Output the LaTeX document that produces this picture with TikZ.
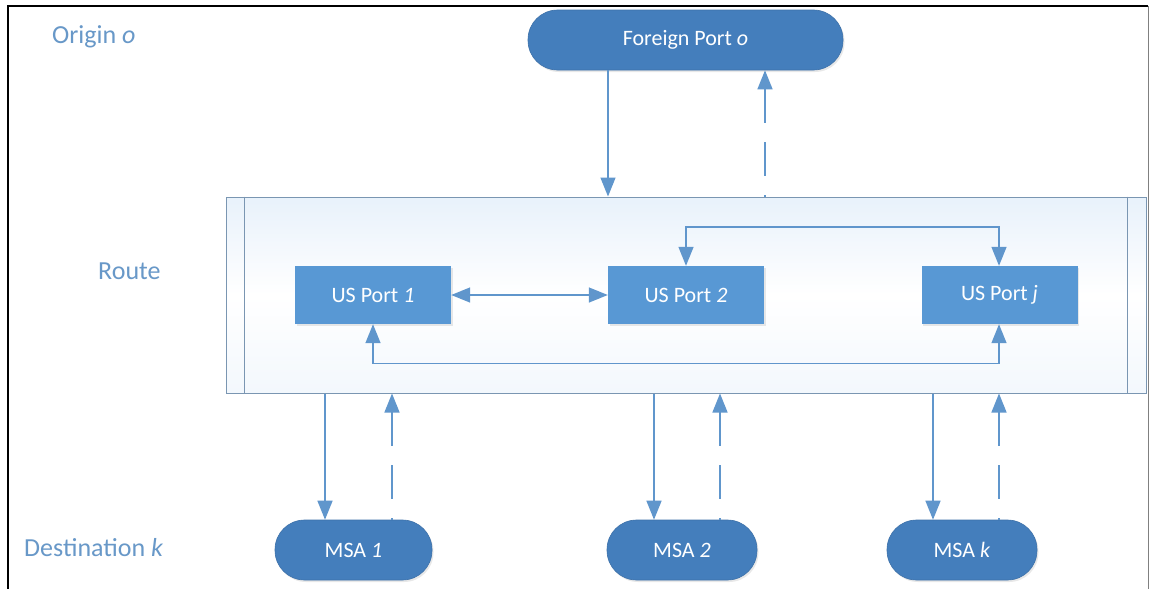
\documentclass[tikz,border=0pt]{standalone}
\usepackage{fontspec}
\setmainfont{Carlito}
\usetikzlibrary{arrows.meta,shadows,calc}
\definecolor{lbl}{RGB}{104,152,200}
\definecolor{pill}{RGB}{68,126,188}
\definecolor{boxc}{RGB}{88,152,212}
\definecolor{conn}{RGB}{96,150,204}
\definecolor{rb}{RGB}{122,150,178}
\definecolor{rfill}{RGB}{228,239,250}
\tikzset{
  lab/.style={text=lbl,font=\fontsize{26}{30}\selectfont,anchor=west,inner sep=0},
  pillnode/.style={fill=pill,draw=pill!90!black,line width=0.6pt,rounded corners=29.5pt,text=white,
    font=\fontsize{22}{26}\selectfont,minimum height=60pt,inner sep=0,
    drop shadow={opacity=0.18,shadow xshift=1.5pt,shadow yshift=-2pt}},
  portnode/.style={fill=boxc,text=white,font=\fontsize{22}{26}\selectfont,minimum width=156pt,
    minimum height=58pt,inner sep=0,drop shadow={opacity=0.18,shadow xshift=1.5pt,shadow yshift=-2pt}},
  routebox/.style={draw=rb,line width=1pt,minimum width=920pt,minimum height=196pt,inner sep=0,
    top color=rfill!85!white,bottom color=rfill!45!white,middle color=white},
  arr/.style={draw=conn,line width=1.4pt,-{Triangle[length=19pt,width=15pt]}},
  darr/.style={draw=conn,line width=1.4pt,{Triangle[length=19pt,width=15pt]}-{Triangle[length=19pt,width=15pt]}},
  dsh/.style={arr,dash pattern=on 34pt off 19pt,dash phase=32pt},
}
\begin{document}
\begin{tikzpicture}[x=1pt,y=-1pt]
\useasboundingbox (0,0) rectangle (1149,589);
\fill[white] (0,0) rectangle (1149,589);
% frame
\draw[black,line width=2pt] (8,589) -- (8,6) -- (1148,6);
\draw[gray,line width=1pt] (1148,6) -- (1148,589);

% labels
\node[lab] (lorigin) at (52,37) {Origin \textit{o}};
\node[lab] (lroute) at (98,271) {Route};
\node[lab] (ldest) at (24,548) {Destination \textit{k}};

% route box
\node[routebox] (route) at (686,295) {};
\draw[rb,line width=1pt] ([xshift=19pt]route.north west) -- ([xshift=19pt]route.south west);
\draw[rb,line width=1pt] ([xshift=-19pt]route.north east) -- ([xshift=-19pt]route.south east);

% nodes
\node[pillnode,minimum width=315pt] (fp) at (685.5,40) {Foreign Port \textit{o}};
\node[portnode] (p1) at (373,295) {US Port \textit{1}};
\node[portnode] (p2) at (686,295) {US Port \textit{2}};
\node[portnode] (pj) at (999.5,295) {US Port \textit{j}};
\node[pillnode,minimum width=157pt] (m1) at (353.5,550) {MSA \textit{1}};
\node[pillnode,minimum width=150pt] (m2) at (682,550) {MSA \textit{2}};
\node[pillnode,minimum width=150pt] (mk) at (962,550) {MSA \textit{k}};

% foreign port <-> route
\draw[arr] ([xshift=-77.5pt]fp.south) -- ([xshift=-77.5pt]fp.south |- route.north);
\draw[dsh] ([xshift=79.5pt]fp.south |- route.north) -- ([xshift=79.5pt]fp.south);

% inside route
\draw[darr] (p1.east) -- (p2.west);
\draw[darr] (p2.north) -- ++(0,-39) -| ([xshift=-0.5pt]pj.north);
\draw[darr] (p1.south) -- ++(0,39) -| ([xshift=-0.5pt]pj.south);

% route <-> MSAs
\draw[arr] ([xshift=-28.5pt]m1.north |- route.south) -- ([xshift=-28.5pt]m1.north);
\draw[dsh] ([xshift=38.5pt]m1.north) -- ([xshift=38.5pt]m1.north |- route.south);
\draw[arr] ([xshift=-28pt]m2.north |- route.south) -- ([xshift=-28pt]m2.north);
\draw[dsh] ([xshift=38pt]m2.north) -- ([xshift=38pt]m2.north |- route.south);
\draw[arr] ([xshift=-29pt]mk.north |- route.south) -- ([xshift=-29pt]mk.north);
\draw[dsh] ([xshift=37pt]mk.north) -- ([xshift=37pt]mk.north |- route.south);
\end{tikzpicture}
\end{document}
